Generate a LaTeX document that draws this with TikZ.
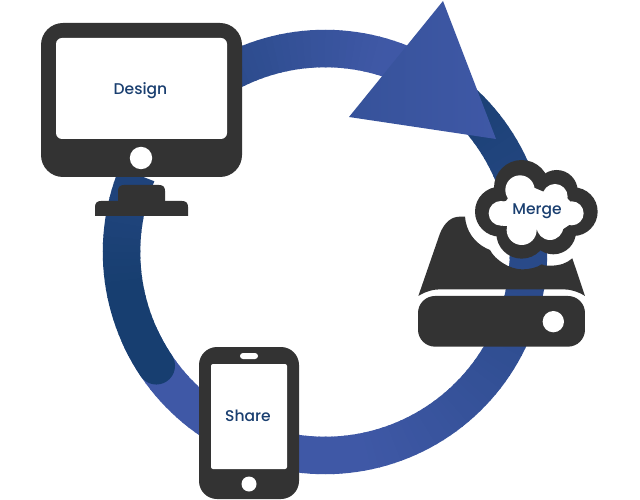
\documentclass[tikz,border=0pt]{standalone}
\usepackage{fontspec}
\setmainfont{Poppins Medium}
\definecolor{bright}{HTML}{3F58A6}
\definecolor{ringdark}{HTML}{173E70}
\definecolor{ink}{HTML}{333333}
\definecolor{label}{HTML}{1A3F70}
\tikzset{
  ringseg/.style={line width=37.5bp,line cap=butt},
  dev/.style={fill=ink,draw=none},
  screenface/.style={fill=white,draw=none},
  caption/.style={text=label,font=\fontsize{15.6}{17}\selectfont,inner sep=0pt}
}
\newcommand{\ringpt}[1]{({325+203.5*cos(#1)},{252-203.5*sin(#1)})}
\begin{document}
\begin{tikzpicture}[x=1bp,y=-1bp]
\useasboundingbox (0,0) rectangle (640,500);
\fill[white] (0,0) rectangle (640,500);
% light arc: bottom and right side, fading into dark
\foreach \a in {204,206,...,420}{
  \pgfmathsetmacro\p{max(0,min(100,(420-\a)/1.4))}
  \draw[ringseg,color={bright!\p!ringdark}] \ringpt{\a} -- \ringpt{\a+2.4};
}
% dark arc with round end
\foreach \a in {214,212,...,160}{
  \pgfmathsetmacro\p{max(0,min(20,(190-\a)))}
  \draw[ringseg,color={bright!\p!ringdark}] \ringpt{\a} -- \ringpt{\a-2.4};
}
\fill[ringdark] \ringpt{214} circle[radius=18.75];
% top arc leading to the arrow head
\foreach \a in {130,128,...,66}{
  \pgfmathsetmacro\p{max(0,min(100,50+(120-\a)/0.9))}
  \draw[ringseg,color={bright!\p!ringdark}] \ringpt{\a} -- \ringpt{\a-2.4};
}
% arrow head
\coordinate (tipA) at (443,1);
\coordinate (tipB) at (349,117);
\coordinate (tipC) at (496,139);
\shade[left color=bright!78!ringdark,right color=bright] (tipA) -- (tipB) -- (tipC) -- cycle;
% monitor
\fill[dev] (118,202) -- (118,191) .. controls (118,187) and (120,185) .. (124,185) -- (159,185) .. controls (163,185) and (165,187) .. (165,191) -- (165,202) -- cycle;
\fill[dev] (95,216) -- (95,207) .. controls (95,203) and (97,201) .. (101,201) -- (182,201) .. controls (186,201) and (188,203) .. (188,207) -- (188,216) -- cycle;
\fill[dev,rounded corners=22bp] (41,23) rectangle (242,177);
\fill[screenface,rounded corners=6bp] (56,38) rectangle (227,139);
\fill[screenface] (141,158) circle[radius=11.2];
\node[caption] (design) at (140.5,90.5) {Design};
% drive and cloud, in coordinates of a 3x crop
\begin{scope}[shift={(340,0)},x=0.33333bp,y=-0.33333bp]
\fill[dev] (235,888) -- (300,700) .. controls (315,665) and (335,650) .. (360,650) -- (375,650)
  .. controls (378,690) and (400,730) .. (450,750) .. controls (465,780) and (510,808) .. (545,808)
  .. controls (570,808) and (590,803) .. (605,793) .. controls (615,798) and (625,797) .. (630,797)
  .. controls (660,797) and (680,790) .. (697,775) -- (735,888)
  .. controls (715,875) and (690,868) .. (670,868) -- (300,868)
  .. controls (280,868) and (255,875) .. (235,888) -- cycle;
\fill[dev,rounded corners=17bp] (234,888) rectangle (735,1040);
\fill[screenface] (640,965) circle[radius=32bp*0.33333];
% cloud outline
\fill[dev] (545,563) circle[radius=83bp*0.33333];
\fill[dev] (650,573) circle[radius=63bp*0.33333];
\fill[dev] (700,635) circle[radius=73bp*0.33333];
\fill[dev] (480,635) circle[radius=75bp*0.33333];
\fill[dev] (545,700) circle[radius=76bp*0.33333];
\fill[dev] (640,695) circle[radius=68bp*0.33333];
\fill[dev] (590,635) circle[radius=100bp*0.33333];
% cloud interior
\fill[screenface] (483,640) circle[radius=37bp*0.33333];
\fill[screenface] (540,570) circle[radius=44bp*0.33333];
\fill[screenface] (645,590) circle[radius=38bp*0.33333];
\fill[screenface] (695,640) circle[radius=36bp*0.33333];
\fill[screenface] (545,690) circle[radius=45bp*0.33333];
\fill[screenface] (630,680) circle[radius=40bp*0.33333];
\fill[screenface] (498,603) -- (540,545) -- (610,575) -- (650,560) -- (693,607) -- (695,670) -- (665,690) -- (630,700) -- (595,685) -- (545,720) -- (505,678) -- (483,677) -- (470,610) -- cycle;
\end{scope}
\node[caption] (merge) at (537,211) {Merge};
% phone
\fill[dev,rounded corners=18bp] (199,347) rectangle (299,499);
\fill[screenface,rounded corners=2bp] (211,364) rectangle (287,469);
\fill[screenface,rounded corners=3bp] (240,353) rectangle (258,359);
\fill[screenface] (249,484) circle[radius=7.5];
\node[caption] (share) at (248,416) {Share};
\end{tikzpicture}
\end{document}
